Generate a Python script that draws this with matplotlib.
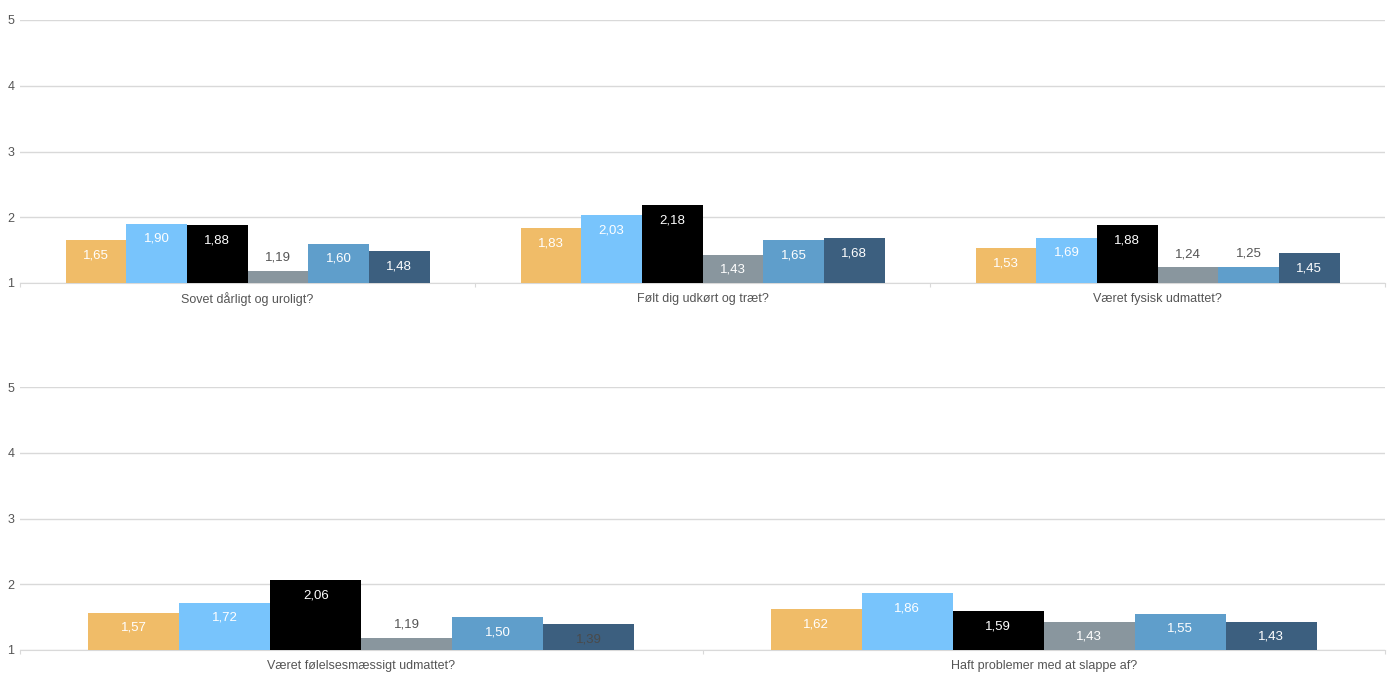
import matplotlib.pyplot as plt
import numpy as np

plt.rcParams['font.family'] = ['Liberation Sans', 'DejaVu Sans']

# --- data ---
top_categories = ['Sovet dårligt og uroligt?', 'Følt dig udkørt og træt?', 'Været fysisk udmattet?']
bottom_categories = ['Været følelsesmæssigt udmattet?', 'Haft problemer med at slappe af?']

series_top = [
    [1.65, 1.83, 1.53],
    [1.90, 2.03, 1.69],
    [1.88, 2.18, 1.88],
    [1.19, 1.43, 1.24],
    [1.60, 1.65, 1.25],
    [1.48, 1.68, 1.45],
]
series_bottom = [
    [1.57, 1.62],
    [1.72, 1.86],
    [2.06, 1.59],
    [1.19, 1.43],
    [1.50, 1.55],
    [1.39, 1.43],
]

colors = ['#F0BC68', '#78C4FC', '#000000', '#89969E', '#5F9ECB', '#3C5F7F']
y_ticks = [1, 2, 3, 4, 5]

# the one label drawn dark on its bar in the original (series index, category index)
dark_labels_bottom = [(5, 0)]


def fmt(v):
    return f'{v:.2f}'.replace('.', ',')


def draw_panel(ax, categories, series, dark_labels=()):
    n = len(series)
    x = np.arange(len(categories))
    width = 0.8 / n
    for i, vals in enumerate(series):
        pos = x - 0.4 + width * (i + 0.5)
        heights = [v - 1 for v in vals]
        ax.bar(pos, heights, width, bottom=1, color=colors[i], zorder=3)
        for j, (p, v) in enumerate(zip(pos, vals)):
            if v < 1.3:
                ax.annotate(fmt(v), (p, v), xytext=(0, 13), textcoords='offset pixels',
                            ha='center', va='center', fontsize=9.5, color='#555555')
            else:
                c = '#4a4a4a' if (i, j) in dark_labels else 'white'
                ax.annotate(fmt(v), (p, v), xytext=(0, -15), textcoords='offset pixels',
                            ha='center', va='center', fontsize=9.5, color=c)

    ax.set_xlim(-0.5, len(categories) - 0.5)
    ax.set_ylim(1, 5)
    ax.set_yticks(y_ticks)
    ax.yaxis.grid(True, color='#d9d9d9', linewidth=1, zorder=0)
    ax.set_axisbelow(True)
    for s in ['top', 'right', 'left']:
        ax.spines[s].set_visible(False)
    ax.spines['bottom'].set_color('#d9d9d9')
    ax.tick_params(axis='y', length=0, pad=4, labelsize=9, labelcolor='#555555')

    # category labels centred, boundary ticks between groups
    ax.set_xticks(np.arange(-0.5, len(categories)))
    ax.set_xticklabels([])
    ax.tick_params(axis='x', length=3, color='#d9d9d9')
    for xi, cat in zip(x, categories):
        ax.annotate(cat, (xi, 1), xytext=(0, -16), textcoords='offset pixels',
                    ha='center', va='center', fontsize=9, color='#555555',
                    annotation_clip=False)


fig = plt.figure(figsize=(13.94, 6.78), dpi=100)
ax1 = fig.add_axes([20 / 1394, 1 - 283 / 678, 1365 / 1394, 263 / 678])
ax2 = fig.add_axes([20 / 1394, 1 - 650 / 678, 1365 / 1394, 263 / 678])

draw_panel(ax1, top_categories, series_top)
draw_panel(ax2, bottom_categories, series_bottom, dark_labels_bottom)

fig.savefig('out.png', dpi=100, facecolor='white')
